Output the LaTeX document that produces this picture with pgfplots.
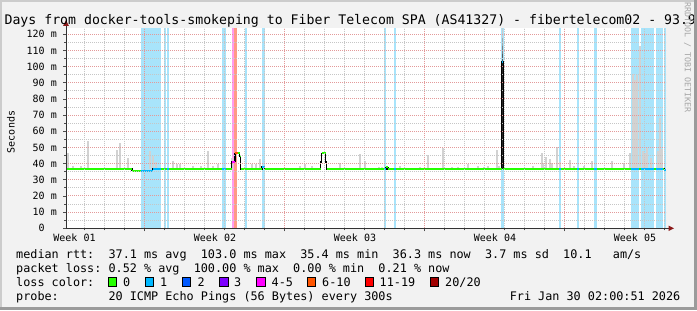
\documentclass[border=0pt]{standalone}
\usepackage{fontspec}
\setmainfont{DejaVu Sans Mono}
\usepackage{pgfplots}
\usepackage{pgfplotstable}
\pgfplotsset{compat=1.18}

\definecolor{canvas}{HTML}{F2F2F2}
\definecolor{mgrid}{HTML}{E39A9A}
\definecolor{mingrid}{HTML}{C6C6C6}
\definecolor{smoke}{HTML}{D2D2D2}
\definecolor{lossA}{HTML}{26FF00}
\definecolor{lossB}{HTML}{00B8FF}
\definecolor{lossC}{HTML}{0059FF}
\definecolor{lossD}{HTML}{7E00FF}
\definecolor{lossE}{HTML}{FF00FF}
\definecolor{lossF}{HTML}{FF5500}
\definecolor{lossG}{HTML}{FF0000}
\definecolor{lossH}{HTML}{A10000}
\definecolor{bgB}{HTML}{A8E4FB}
\definecolor{bgE}{HTML}{FF9CF0}
\definecolor{bgF}{HTML}{FF9A86}
\definecolor{arrowred}{HTML}{8B1A1A}
\definecolor{frameD}{HTML}{9B9B9B}
\definecolor{frameL}{HTML}{CCCCCC}

\pgfplotstableread{
x top
67.5 46.4
73 38.7
81 38.7
87.5 54
117 48.4
120 52.5
128 43.4
150.3 47.8
152.7 44.8
155.8 41.2
172.5 41.4
177 40
180.2 39.8
192.5 38.5
200.5 38.5
208 48
212.5 38.5
218 40
231.5 43.4
252 39.6
255.8 39.6
260 43
299.8 38.5
305 40
311.5 38.5
340 40.6
360 46
365 41.8
378.5 38.2
382 38.2
400 38.7
420 38.2
428.3 45.3
443.3 49.9
452.3 38.2
457.7 38.2
467.7 39.6
477.7 38.5
484 38.2
487.7 38.5
496.8 48.6
499 38.5
533 38.7
541.5 46.8
543.2 40.2
545.8 43.9
549.7 42.7
551.7 40.2
557 50
560.2 41.2
569.7 42.2
573.5 38.7
584.2 38.7
591.8 41.8
611.5 41.5
624 40.6
629.7 46.8
632.5 95.6
634.5 91.7
636.8 95
639.8 113
642.5 47.7
645 46.5
647 49.5
650.7 43.6
657.5 48
659.7 68
661.6 49
}\smokedata

\newcommand\band[3]{\addplot[fill=#1,draw=none,forget plot] coordinates {(#2,0) (#3,0) (#3,123.7) (#2,123.7)} -- cycle;}
\newcommand\spikeblock[3]{\addplot[fill=#1,draw=none,forget plot] coordinates {(501.5,#2) (503.3,#2) (503.3,#3) (501.5,#3)} -- cycle;}
\newcommand\lgbox[2]{\draw[black, line width=0.8bp, fill=#1] (#2,277.3) rectangle ++(8.6,9.4);}

\begin{document}
\frenchspacing
\begin{tikzpicture}
\begin{scope}[x=1bp,y=-1bp]
\useasboundingbox (0,0) rectangle (697,310);
\fill[canvas] (0,0) rectangle (697,310);
\end{scope}

\begin{axis}[
  at={(66bp,-228.3bp)}, anchor=south west,
  scale only axis, width=600bp, height=200bp,
  xmin=66, xmax=666, ymin=0, ymax=123.7,
  axis background/.style={fill=white},
  axis on top,
  axis x line*=bottom, axis y line*=left,
  axis line style={black!80, line width=1bp},
  xtick={144,284,424,564}, xticklabels={,,,},
  minor xtick={84,104,124,164,184,204,224,244,264,304,324,344,364,384,404,444,464,484,504,524,544,584,604,624,644,664},
  extra x ticks={74.5,215,355,495,635},
  extra x tick labels={Week 01,Week 02,Week 03,Week 04,Week 05},
  extra x tick style={grid=none, major tick length=0pt},
  ytick={0,10,20,30,40,50,60,70,80,90,100,110,120},
  yticklabels={{0\phantom{\ m}},{10 m},{20 m},{30 m},{40 m},{50 m},{60 m},{70 m},{80 m},{90 m},{100 m},{110 m},{120 m}},
  minor ytick={5,15,25,35,45,55,65,75,85,95,105,115},
  xmajorgrids, xminorgrids, ymajorgrids, yminorgrids,
  major grid style={mgrid, line width=1bp, dash pattern=on 1bp off 1bp},
  minor grid style={mingrid, line width=1bp, dash pattern=on 1bp off 1bp},
  tick style={black!70, line width=0.8bp},
  major tick length=3bp, minor tick length=2bp,
  tick align=outside,
  xticklabel style={font=\fontsize{10bp}{12bp}\selectfont, anchor=base, yshift=-13.2bp, inner sep=0pt},
  yticklabel style={font=\fontsize{10bp}{12bp}\selectfont, anchor=east, inner sep=0pt, xshift=-6bp},
]
% loss background bands
\band{bgB}{141}{161}
\band{bgB}{164}{166}
\band{bgB}{167}{169}
\band{bgB}{222}{226}
\band{bgE}{232}{234.3}
\band{bgF}{234.3}{236.7}
\band{bgB}{244.8}{246.8}
\band{bgB}{262}{264.5}
\band{bgB}{384}{386}
\band{bgB}{394}{396}
\band{bgB}{501}{504}
\band{bgB}{559}{561}
\band{bgB}{577}{579}
\band{bgB}{594}{597}
\band{bgB}{631}{639}
\band{bgB}{641}{654}
\band{bgB}{656}{663}
\band{bgB}{664}{665.7}

% smoke
\addplot[forget plot, draw=none, mark=none,
  error bars/.cd, y dir=plus, y explicit, error mark=none,
  error bar style={draw=smoke, line width=2bp}]
  table[x=x, y expr=36.7, y error expr=\thisrow{top}-36.7] {\smokedata};

% spike
\spikeblock{black!85}{36.7}{103}
\spikeblock{black!65}{103}{108}
\spikeblock{black!50}{108}{113}
\spikeblock{black!35}{113}{118}
\spikeblock{black!20}{118}{123.7}

% median path (black)
\addplot[forget plot, black, mark=none, line width=1.2bp] coordinates {
(66,36.7) (132,36.7) (132,35.6) (152.5,35.6) (152.5,36.7) (231.5,36.7) (231.5,41.3) (235,41.3) (235,46.3) (239.5,46.3) (239.5,44.5) (240.5,44.5) (240.5,36.7) (262,36.7) (262,38) (264.5,38) (264.5,36.7) (320.5,36.7) (320.5,41) (321.5,41) (321.5,46.3) (325.5,46.3) (325.5,41) (326.5,41) (326.5,36.7) (386,36.7) (386,37.8) (388,37.8) (388,36.7) (501.5,36.7) (501.5,103) (503.3,103) (503.3,36.7) (664,36.7) (664,36.3) (666,36.3)
};

% loss 0 segments
\addplot[forget plot, lossA, mark=none, line width=2bp, unbounded coords=jump] coordinates {
(66,36.7) (132,36.7) (132,nan)
(132,35.6) (141,35.6) (141,nan)
(161,36.7) (163.5,36.7) (163.5,nan)
(165.3,36.7) (166.7,36.7) (166.7,nan)
(168.7,36.7) (222,36.7) (222,nan)
(226,36.7) (231.5,36.7) (231.5,nan)
(237.5,46.3) (239.5,46.3) (239.5,nan)
(239.5,44.5) (240.5,44.5) (240.5,nan)
(240.5,36.7) (262,36.7) (262,nan)
(264.5,36.7) (320.5,36.7) (320.5,nan)
(321.5,46.3) (325.5,46.3) (325.5,nan)
(326.5,36.7) (384,36.7) (384,nan)
(386,37.8) (388,37.8) (388,nan)
(388,36.7) (394,36.7) (394,nan)
(396,36.7) (501.5,36.7) (501.5,nan)
(503.3,36.7) (559,36.7) (559,nan)
(561,36.7) (577,36.7) (577,nan)
(579,36.7) (594,36.7) (594,nan)
(597,36.7) (631,36.7) (631,nan)
(639,36.7) (641,36.7) (641,nan)
(654,36.7) (656,36.7) (656,nan)
(663,36.7) (664,36.7)
};
% loss 1 segments
\addplot[forget plot, lossB, mark=none, line width=2bp, unbounded coords=jump] coordinates {
(141,35.6) (152.5,35.6) (152.5,nan)
(152.5,36.7) (161,36.7) (161,nan)
(163.5,36.7) (165.3,36.7) (165.3,nan)
(166.7,36.7) (168.7,36.7) (168.7,nan)
(222,36.7) (226,36.7) (226,nan)
(262,38) (264.5,38) (264.5,nan)
(384,36.7) (386,36.7) (386,nan)
(394,36.7) (396,36.7) (396,nan)
(501.5,103) (503.3,103) (503.3,nan)
(559,36.7) (561,36.7) (561,nan)
(577,36.7) (579,36.7) (579,nan)
(594,36.7) (597,36.7) (597,nan)
(631,36.7) (639,36.7) (639,nan)
(641,36.7) (654,36.7) (654,nan)
(656,36.7) (663,36.7) (663,nan)
(664,36.3) (666,36.3)
};
% loss 4-5 and 6-10
\addplot[forget plot, lossE, mark=none, line width=2bp] coordinates {(231.5,41.3) (235,41.3)};
\addplot[forget plot, lossF, mark=none, line width=2bp] coordinates {(235,46.3) (237.5,46.3)};
\end{axis}

\begin{scope}[x=1bp,y=-1bp]
% axis arrows
\draw[black!80, line width=1bp] (66,28.3) -- (66,24);
\fill[arrowred] (63.2,25.8) -- (68.8,25.8) -- (66,20.2) -- cycle;
\draw[black!80, line width=1bp] (666,228.3) -- (669.5,228.3);
\fill[arrowred] (668.5,225.5) -- (668.5,231.1) -- (674.1,228.3) -- cycle;

% title
\node[anchor=base west, inner sep=0pt, font=\fontsize{13.2bp}{16bp}\selectfont] at (4.4,24)
  {Days from docker-tools-smokeping to Fiber Telecom SPA (AS41327) - fibertelecom02 - 93.9};
% y unit label
\node[rotate=90, inner sep=0pt, font=\fontsize{10bp}{12bp}\selectfont] at (11,132) {Seconds};
% watermark
\node[rotate=-90, anchor=west, inner sep=0pt, text=black!35, font=\fontsize{8.3bp}{10bp}\selectfont] at (687.5,2) {RRDTOOL / TOBI OETIKER};

% legend
\begin{scope}[every node/.style={anchor=base west, inner sep=0pt, font=\fontsize{11.8bp}{14bp}\selectfont}]
\node at (16,258.5) {median rtt:~~37.1 ms avg~~103.0 ms max~~35.4 ms min~~36.3 ms now~~3.7 ms sd~~10.1~~~am/s};
\node at (16,272.5) {packet loss: 0.52 \% avg~~100.00 \% max~~0.00 \% min~~0.21 \% now};
\node at (16,286.5) {loss color:};
\node at (16,300.5) {probe:~~~~~~~20 ICMP Echo Pings (56 Bytes) every 300s};
\node[anchor=base east] at (680.5,300.5) {Fri Jan 30 02:00:51 2026};
\node at (123,286.5) {0};
\node at (160,286.5) {1};
\node at (197.5,286.5) {2};
\node at (234,286.5) {3};
\node at (271.5,286.5) {4-5};
\node at (322,286.5) {6-10};
\node at (379.5,286.5) {11-19};
\node at (445,286.5) {20/20};
\end{scope}
\lgbox{lossA}{108}
\lgbox{lossB}{145}
\lgbox{lossC}{182}
\lgbox{lossD}{219.6}
\lgbox{lossE}{256.4}
\lgbox{lossF}{307}
\lgbox{lossG}{365}
\lgbox{lossH}{430}

% frame
\fill[frameL] (0,0) rectangle (697,2);
\fill[frameL] (0,0) rectangle (2,310);
\fill[frameD] (694,0) rectangle (697,310);
\fill[frameD] (0,307) rectangle (697,310);
\end{scope}
\end{tikzpicture}
\end{document}
